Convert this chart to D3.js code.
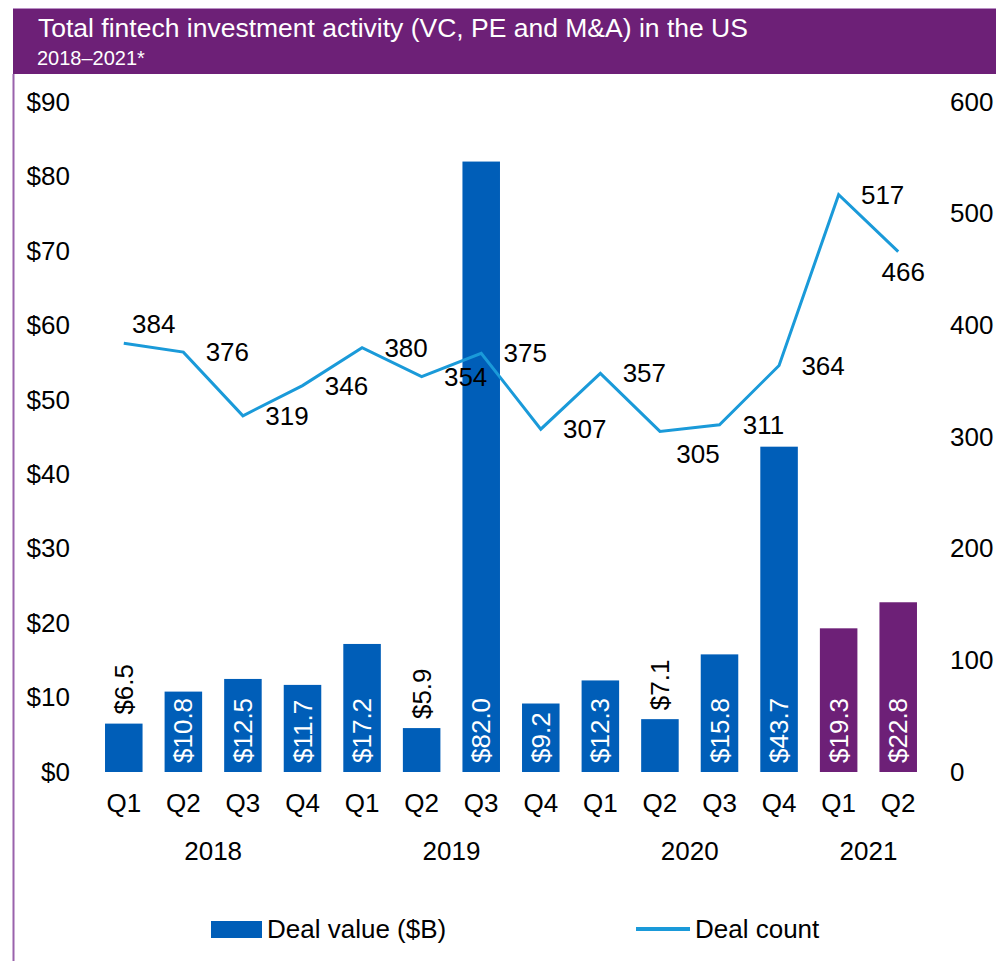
<!DOCTYPE html>
<meta charset="utf-8">
<style>
body { margin: 0; background: #fff; }
text { font-family: "Liberation Sans", Arial, sans-serif; }
</style>
<body>
<script src="https://cdn.jsdelivr.net/npm/d3@7"></script>
<script>

// data
var quarters = ["Q1", "Q2", "Q3", "Q4", "Q1", "Q2", "Q3", "Q4", "Q1", "Q2", "Q3", "Q4", "Q1", "Q2"];
var years = ["2018", "2018", "2018", "2018", "2019", "2019", "2019", "2019", "2020", "2020", "2020", "2020", "2021", "2021"];
var dealValue = [6.5, 10.8, 12.5, 11.7, 17.2, 5.9, 82.0, 9.2, 12.3, 7.1, 15.8, 43.7, 19.3, 22.8];
var dealCount = [384, 376, 319, 346, 380, 354, 375, 307, 357, 305, 311, 364, 517, 466];
var valueTicks = [0, 10, 20, 30, 40, 50, 60, 70, 80, 90];
var countTicks = [0, 100, 200, 300, 400, 500, 600];

// where a count label sits relative to its point (default: to the right)
var countLabelShift = {0: [30, -19], 9: [38, 22], 13: [5, 20]};

var W = 996, H = 961;
var blue = "#005eb8", purple = "#6d2077", lineBlue = "#1a9ad9";

var svg = d3.select("body").append("svg")
    .attr("width", W)
    .attr("height", H);

// header band
svg.append("rect")
    .attr("x", 13).attr("y", 8).attr("width", W - 13).attr("height", 66)
    .attr("fill", purple);
svg.append("line")
    .attr("x1", 13).attr("x2", W).attr("y1", 8.5).attr("y2", 8.5)
    .attr("stroke", "#b98fc4").attr("stroke-width", 1);
svg.append("line")
    .attr("x1", 13.5).attr("x2", 13.5).attr("y1", 74).attr("y2", H)
    .attr("stroke", "#9a62ac").attr("stroke-width", 2);
svg.append("text")
    .attr("x", 38).attr("y", 37)
    .attr("fill", "#fff").style("font-size", "26.5px")
    .text("Total fintech investment activity (VC, PE and M&A) in the US");
svg.append("text")
    .attr("x", 37).attr("y", 65)
    .attr("fill", "#fff").style("font-size", "20px")
    .text("2018\u20132021*");

// scales
var idx = d3.range(dealValue.length);
var x = d3.scaleBand().domain(idx).range([94, 928]).paddingInner(0.37).paddingOuter(0.185);
var yL = d3.scaleLinear().domain([0, 90]).range([772, 102]);
var yR = d3.scaleLinear().domain([0, 600]).range([772, 102]);

// axes (labels only)
var leftAxis = svg.append("g")
    .attr("transform", "translate(70,0)")
    .call(d3.axisLeft(yL).tickValues(valueTicks).tickSize(0).tickPadding(0).tickFormat(function(d) { return "$" + d; }));
var rightAxis = svg.append("g")
    .attr("transform", "translate(950,0)")
    .call(d3.axisRight(yR).tickValues(countTicks).tickSize(0).tickPadding(0));
[leftAxis, rightAxis].forEach(function(g) {
  g.select(".domain").remove();
  g.selectAll("text").attr("fill", "#000").style("font-size", "26px")
    .style("font-family", "'Liberation Sans', Arial, sans-serif");
});

// bars
svg.selectAll(".bar")
  .data(idx)
  .enter().append("rect")
    .attr("class", "bar")
    .attr("x", function(i) { return x(i); })
    .attr("width", x.bandwidth())
    .attr("y", function(i) { return yL(dealValue[i]); })
    .attr("height", function(i) { return yL(0) - yL(dealValue[i]); })
    .attr("fill", function(i) { return years[i] === "2021" ? purple : blue; });

// bar value labels, rotated
svg.selectAll(".vlab")
  .data(idx)
  .enter().append("text")
    .attr("class", "vlab")
    .attr("transform", function(i) {
      var cx = x(i) + x.bandwidth() / 2;
      var small = dealValue[i] < 8;
      var cy = small ? yL(dealValue[i]) - 9 : yL(0) - 9;
      return "translate(" + cx + "," + cy + ") rotate(-90)";
    })
    .attr("dy", "0.35em")
    .attr("fill", function(i) { return dealValue[i] < 8 ? "#000" : "#fff"; })
    .style("font-size", "26px")
    .text(function(i) { return "$" + dealValue[i].toFixed(1); });

// deal count line
var line = d3.line()
    .x(function(i) { return x(i) + x.bandwidth() / 2; })
    .y(function(i) { return yR(dealCount[i]); });
svg.append("path")
    .datum(idx)
    .attr("d", line)
    .attr("fill", "none")
    .attr("stroke", lineBlue)
    .attr("stroke-width", 3);

svg.selectAll(".clab")
  .data(idx)
  .enter().append("text")
    .attr("class", "clab")
    .attr("x", function(i) { var s = countLabelShift[i] || [44, 0]; return x(i) + x.bandwidth() / 2 + s[0]; })
    .attr("y", function(i) { var s = countLabelShift[i] || [44, 0]; return yR(dealCount[i]) + s[1]; })
    .attr("dy", "0.35em")
    .attr("text-anchor", "middle")
    .style("font-size", "26px")
    .text(function(i) { return dealCount[i]; });

// category labels
svg.selectAll(".qlab")
  .data(idx)
  .enter().append("text")
    .attr("class", "qlab")
    .attr("x", function(i) { return x(i) + x.bandwidth() / 2; })
    .attr("y", 812)
    .attr("text-anchor", "middle")
    .style("font-size", "26px")
    .text(function(i) { return quarters[i]; });

var yearNames = Array.from(new Set(years));
svg.selectAll(".ylab")
  .data(yearNames)
  .enter().append("text")
    .attr("class", "ylab")
    .attr("x", function(yr) {
      var ii = idx.filter(function(i) { return years[i] === yr; });
      var first = d3.min(ii), last = d3.max(ii);
      return (x(first) + x(last) + x.bandwidth()) / 2;
    })
    .attr("y", 860)
    .attr("text-anchor", "middle")
    .style("font-size", "26px")
    .text(function(d) { return d; });

// legend
svg.append("rect")
    .attr("x", 211).attr("y", 921).attr("width", 51).attr("height", 17)
    .attr("fill", blue);
svg.append("text")
    .attr("x", 267).attr("y", 929).attr("dy", "0.35em")
    .style("font-size", "26px")
    .text("Deal value ($B)");
svg.append("line")
    .attr("x1", 636).attr("x2", 690).attr("y1", 929).attr("y2", 929)
    .attr("stroke", lineBlue).attr("stroke-width", 4);
svg.append("text")
    .attr("x", 695).attr("y", 929).attr("dy", "0.35em")
    .style("font-size", "26px")
    .text("Deal count");

</script>
</body>
